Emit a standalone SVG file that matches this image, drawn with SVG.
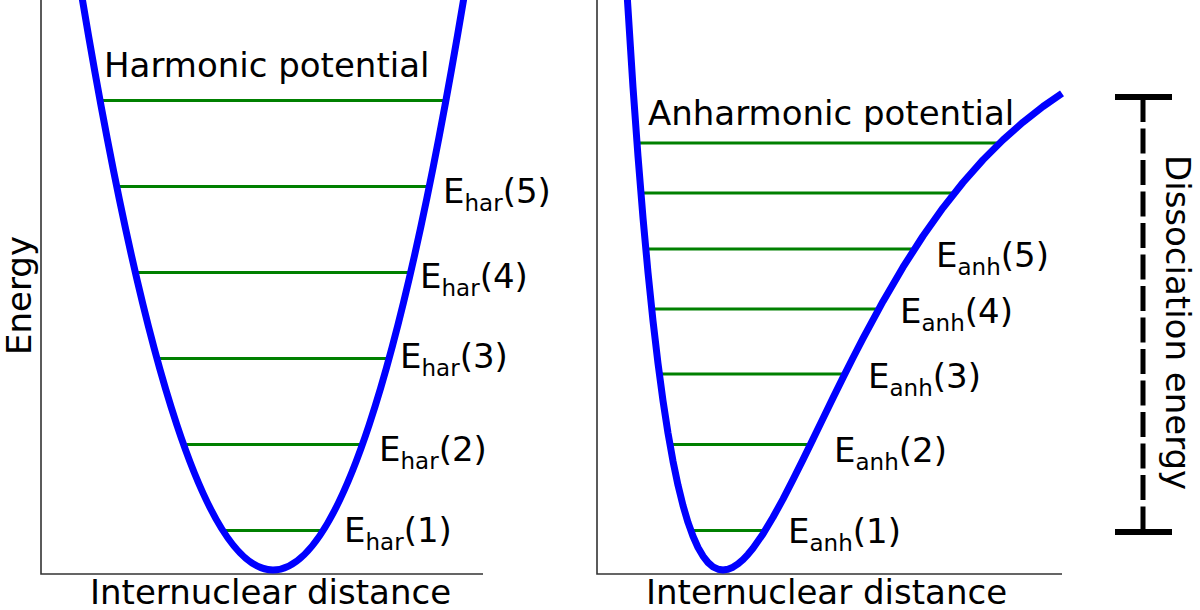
<svg xmlns="http://www.w3.org/2000/svg" width="1200" height="610" viewBox="0 0 1200 610">
<style>
text{font-family:"DejaVu Sans","Verdana",sans-serif;font-size:34px;fill:#000}
.sub{font-size:23px}
.axis{stroke:#333;stroke-width:1.6;fill:none}
.level{stroke:#008000;stroke-width:3;fill:none}
.curve{stroke:#0000ff;stroke-width:7;fill:none;stroke-linejoin:round}
.bar{stroke:#000;stroke-width:6;fill:none}
</style>
<rect width="1200" height="610" fill="#fff"/>
<g id="harmonic-panel">
  <g id="harmonic-axes">
    <polyline class="axis" points="41,0 41,574 483,574"/>
    <text x="90" y="604">Internuclear distance</text>
    <text transform="translate(31,355) rotate(-90)">Energy</text>
  </g>
  <g id="harmonic-levels">
    <line class="level" x1="100" y1="100.5" x2="446" y2="100.5"/>
    <line class="level" x1="116.6" y1="186.5" x2="429.4" y2="186.5"/>
    <line class="level" x1="135.2" y1="272.5" x2="410.8" y2="272.5"/>
    <line class="level" x1="156.8" y1="358.5" x2="389.2" y2="358.5"/>
    <line class="level" x1="183.4" y1="444.5" x2="362.6" y2="444.5"/>
    <line class="level" x1="222.5" y1="530.5" x2="323.5" y2="530.5"/>
  </g>
  <g id="harmonic-curve">
    <path class="curve" d="M80.8,-10 Q273,1150 465.2,-10"/>
  </g>
  <g id="harmonic-labels">
    <text x="104" y="77">Harmonic potential</text>
    <text x="443" y="203">E<tspan class="sub" dy="8">har</tspan><tspan dy="-8">(5)</tspan></text>
    <text x="420" y="288">E<tspan class="sub" dy="8">har</tspan><tspan dy="-8">(4)</tspan></text>
    <text x="400" y="368">E<tspan class="sub" dy="8">har</tspan><tspan dy="-8">(3)</tspan></text>
    <text x="379" y="461">E<tspan class="sub" dy="8">har</tspan><tspan dy="-8">(2)</tspan></text>
    <text x="344" y="542">E<tspan class="sub" dy="8">har</tspan><tspan dy="-8">(1)</tspan></text>
  </g>
</g>
<g id="anharmonic-panel">
  <g id="anharmonic-axes">
    <polyline class="axis" points="597,0 597,574 1062,574"/>
    <text x="646" y="604">Internuclear distance</text>
  </g>
  <g id="anharmonic-levels">
    <line class="level" x1="637" y1="143" x2="1000" y2="143"/>
    <line class="level" x1="641" y1="193" x2="954.5" y2="193"/>
    <line class="level" x1="646" y1="249" x2="914" y2="249"/>
    <line class="level" x1="652" y1="309" x2="879" y2="309"/>
    <line class="level" x1="659" y1="374" x2="845" y2="374"/>
    <line class="level" x1="670" y1="444.5" x2="810" y2="444.5"/>
    <line class="level" x1="691" y1="530.5" x2="765" y2="530.5"/>
  </g>
  <g id="anharmonic-curve">
    <polyline class="curve" points="626.8,-10 633,87.2 638,156.2 643,217.9 648,272.5 653,320.8 658,363.4 663,400.7 668,433.1 673,461.2 678,485.2 683,505.5 688,522.4 693,536.3 698,547.5 703,556.1 708,562.5 713,566.8 718,569.2 723,570 728,569.3 733,567.2 738,563.9 743,559.6 748,554.3 753,548.2 763,533.9 773,517.3 783,499.1 793,479.7 803,459.6 813,439.1 823,418.4 833,397.9 843,377.6 853,357.7 863,338.3 883,301.4 903,267.2 923,236 943,207.8 963,182.5 983,159.9 1003,139.9 1023,122.2 1043,106.5 1062,93.4"/>
  </g>
  <g id="anharmonic-labels">
    <text x="648" y="125">Anharmonic potential</text>
    <text x="936" y="267">E<tspan class="sub" dy="8">anh</tspan><tspan dy="-8">(5)</tspan></text>
    <text x="900" y="323">E<tspan class="sub" dy="8">anh</tspan><tspan dy="-8">(4)</tspan></text>
    <text x="868" y="388">E<tspan class="sub" dy="8">anh</tspan><tspan dy="-8">(3)</tspan></text>
    <text x="834" y="462">E<tspan class="sub" dy="8">anh</tspan><tspan dy="-8">(2)</tspan></text>
    <text x="788" y="543">E<tspan class="sub" dy="8">anh</tspan><tspan dy="-8">(1)</tspan></text>
  </g>
</g>
<g id="dissociation-energy">
  <line class="bar" x1="1115" y1="97" x2="1172" y2="97"/>
  <line class="bar" x1="1115" y1="532" x2="1172" y2="532"/>
  <line stroke="#000" stroke-width="5" stroke-dasharray="25 6.5" x1="1143" y1="97" x2="1143" y2="532"/>
  <text transform="translate(1166,155) rotate(90)">Dissociation energy</text>
</g>
</svg>
